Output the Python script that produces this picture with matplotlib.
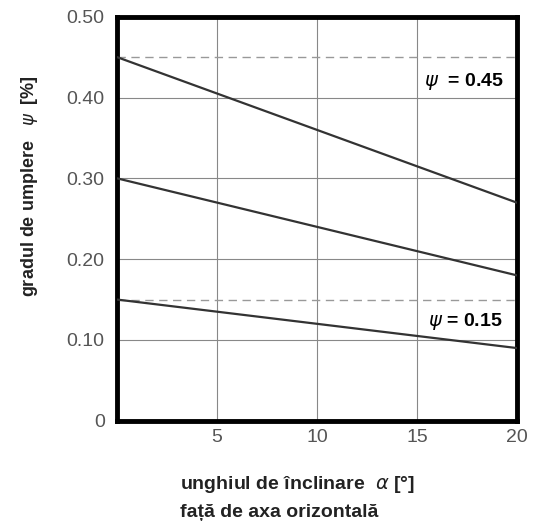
import matplotlib.pyplot as plt

# unghiul de inclinare (grade) si gradul de umplere
alpha = [0, 20]
psi_045 = [0.45, 0.27]
psi_030 = [0.30, 0.18]
psi_015 = [0.15, 0.09]
ref_levels = [0.45, 0.15]

yticks = [0, 0.10, 0.20, 0.30, 0.40, 0.50]
ytick_labels = ["0", "0.10", "0.20", "0.30", "0.40", "0.50"]
xticks = [5, 10, 15, 20]

plt.rcParams['font.family'] = ['Liberation Sans', 'DejaVu Sans']

fig = plt.figure(figsize=(5.4, 5.24), dpi=100)
ax = fig.add_axes([0.217, 0.197, 0.740, 0.771])

for lvl in ref_levels:
    ax.axhline(lvl, color='#999999', lw=1.0, ls=(0, (6, 4)), zorder=2)

for ys in (psi_045, psi_030, psi_015):
    ax.plot(alpha, ys, color='#333333', lw=1.6, zorder=3)

ax.set_xlim(0, 20)
ax.set_ylim(0, 0.5)
ax.set_xticks(xticks)
ax.set_yticks(yticks)
ax.set_yticklabels(ytick_labels)
ax.grid(True, color='#888888', lw=0.8, zorder=1)
ax.tick_params(length=0, labelsize=14, colors='#555555')
ax.tick_params(axis='x', pad=6)
ax.tick_params(axis='y', pad=9)
for s in ax.spines.values():
    s.set_linewidth(3.5)
    s.set_color('black')

ax.text(17.35, 0.42, r"$\psi$  = 0.45", fontsize=14, fontweight='bold', ha='center', va='center',
        bbox=dict(facecolor='white', edgecolor='none', pad=2), zorder=4)
ax.text(17.4, 0.123, r"$\psi$ = 0.15", fontsize=14, fontweight='bold', ha='center', va='center',
        bbox=dict(facecolor='white', edgecolor='none', pad=2), zorder=4)

fig.text(0.055, 0.645, r"gradul de umplere   $\psi$  [%]", rotation=90, fontsize=13,
         fontweight='bold', ha='center', va='center', color='#222222')
fig.text(0.333, 0.076, r"unghiul de înclinare  $\alpha$ [°]", fontsize=14,
         fontweight='bold', ha='left', va='center', color='#222222')
fig.text(0.333, 0.021, "față de axa orizontală", fontsize=14,
         fontweight='bold', ha='left', va='center', color='#222222')

fig.savefig("out.png", dpi=100)
